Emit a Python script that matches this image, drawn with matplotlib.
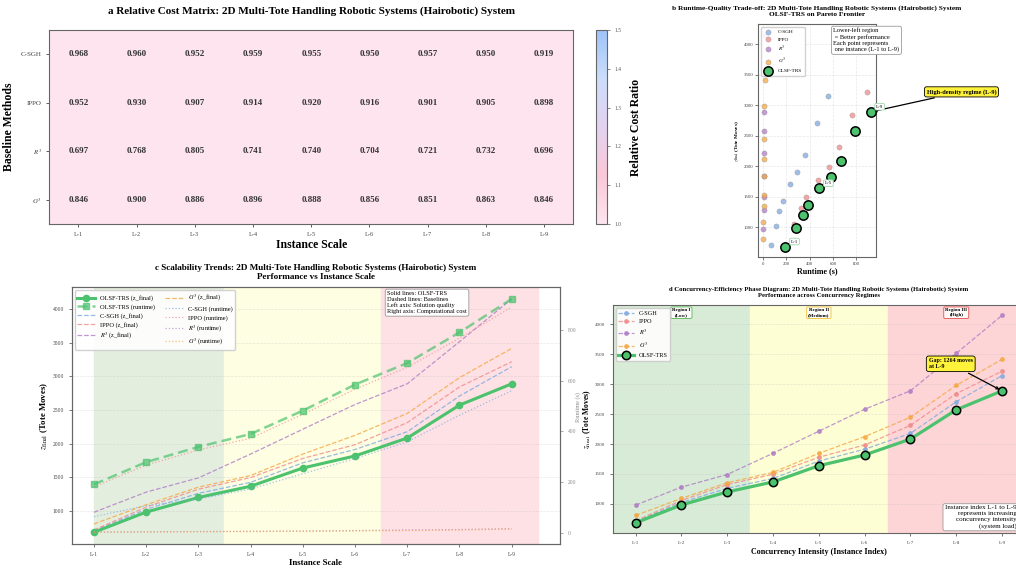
import numpy as np
import matplotlib
matplotlib.use('Agg')
import matplotlib.pyplot as plt
from matplotlib.colors import LinearSegmentedColormap

plt.rcParams['font.family'] = 'serif'
plt.rcParams['font.serif'] = ['Liberation Serif', 'DejaVu Serif']
plt.rcParams['mathtext.fontset'] = 'stix'

# Data
instances = ['L-1', 'L-2', 'L-3', 'L-4', 'L-5', 'L-6', 'L-7', 'L-8', 'L-9']
baselines = ['C-SGH', 'IPPO', '$R^3$', '$G^3$']
ratio = np.array([
    [0.968, 0.960, 0.952, 0.959, 0.955, 0.950, 0.957, 0.950, 0.919],
    [0.952, 0.930, 0.907, 0.914, 0.920, 0.916, 0.901, 0.905, 0.898],
    [0.697, 0.768, 0.805, 0.741, 0.740, 0.704, 0.721, 0.732, 0.696],
    [0.846, 0.900, 0.886, 0.896, 0.888, 0.856, 0.851, 0.863, 0.846],
])

olsf_z = [683, 983, 1200, 1367, 1638, 1817, 2083, 2572, 2888]
csgh_z = [706, 1024, 1261, 1425, 1715, 1913, 2177, 2707, 3143]
ippo_z = [717, 1057, 1323, 1496, 1780, 1984, 2312, 2842, 3216]
r3_z = [980, 1280, 1491, 1845, 2214, 2581, 2889, 3514, 4149]
g3_z = [807, 1092, 1354, 1526, 1845, 2123, 2448, 2980, 3414]

olsf_rt = [190, 278, 338, 389, 481, 584, 669, 790, 922]
csgh_rt = [63, 106, 132, 172, 232, 292, 358, 463, 560]
ippo_rt = [180, 266, 326, 372, 467, 566, 652, 767, 890]
r3_rt = [2, 3, 4, 5, 6, 8, 10, 12, 15]
g3_rt = [1, 2, 3, 4, 5, 6, 8, 10, 14]

base_z = [csgh_z, ippo_z, r3_z, g3_z]
base_rt = [csgh_rt, ippo_rt, r3_rt, g3_rt]
colors = ['#7FA9E0', '#F08A8A', '#B07CC6', '#F5A742']
green = '#4CC26E'
x = np.arange(len(instances))

fig = plt.figure(figsize=(10.16, 5.72), dpi=100)

# ---------------- a: heatmap
ax_a = fig.add_axes([0.0485, 0.6084, 0.5157, 0.3392])
cax = fig.add_axes([0.5866, 0.6084, 0.0105, 0.3392])
cmap = LinearSegmentedColormap.from_list('pb', ['#FDE4EE', '#FAC8D8', '#E3D2F0', '#CCDDFB', '#9DC3F8'])
im = ax_a.imshow(ratio, cmap=cmap, vmin=1.0, vmax=1.5, aspect='auto')
for i in range(ratio.shape[0]):
    for j in range(ratio.shape[1]):
        ax_a.text(j, i, f'{ratio[i, j]:.3f}', ha='center', va='center',
                  fontsize=6.5, fontweight='bold', color='#333333')
ax_a.set_xticks(x)
ax_a.set_xticklabels(instances, fontsize=4.5)
ax_a.set_yticks(range(len(baselines)))
ax_a.set_yticklabels(baselines, fontsize=5)
ax_a.tick_params(length=2, width=0.6, colors='#444444')
ax_a.set_xlabel('Instance Scale', fontsize=8.5, fontweight='bold', labelpad=2)
ax_a.set_ylabel('Baseline Methods', fontsize=8.5, fontweight='bold', labelpad=4)
ax_a.set_title('a Relative Cost Matrix: 2D Multi-Tote Handling Robotic Systems (Hairobotic) System',
               fontsize=8, fontweight='bold', pad=12)
for s in ax_a.spines.values():
    s.set_color('#666666')
cb = fig.colorbar(im, cax=cax)
cb.set_label('Relative Cost Ratio', fontsize=8.5, fontweight='bold', labelpad=6)
cb.ax.tick_params(labelsize=4, length=2, width=0.5, colors='#555555')
cb.outline.set_edgecolor('#666666')

# ---------------- b: scatter
ax_b = fig.add_axes([0.746, 0.5502, 0.1161, 0.4073])
for zs, rts, col, name in zip(base_z, base_rt, colors, baselines):
    ax_b.scatter(rts, zs, s=14, c=col, alpha=0.75, edgecolors='#888888', linewidths=0.3, label=name, zorder=3)
ax_b.scatter(olsf_rt, olsf_z, s=45, c=green, edgecolors='black', linewidths=1.1, label='OLSF-TRS', zorder=5)
for k in [0, 4, 8]:
    ax_b.annotate(instances[k], (olsf_rt[k], olsf_z[k]), xytext=(4, 3), textcoords='offset points',
                  fontsize=3.6, bbox=dict(boxstyle='round,pad=0.25', fc='white', ec='#9FD9AE', lw=0.6), zorder=6)
ax_b.annotate('High-density regime (L-9)', (olsf_rt[8], olsf_z[8]), xytext=(1.43, 0.71),
              textcoords='axes fraction', fontsize=4.5, fontweight='bold', va='center',
              bbox=dict(boxstyle='round,pad=0.35', fc='#FFF23A', ec='black', lw=0.6),
              arrowprops=dict(arrowstyle='->', color='black', lw=0.9), annotation_clip=False)
ax_b.text(0.64, 0.985, 'Lower-left region\n = Better performance\nEach point represents\n one instance (L-1 to L-9)',
          transform=ax_b.transAxes, fontsize=4.6, va='top', ha='left',
          bbox=dict(boxstyle='round,pad=0.3', fc='white', ec='#999999', lw=0.6), zorder=7)
ax_b.legend(loc='upper left', fontsize=3.8, framealpha=0.9, edgecolor='#cccccc', borderpad=0.5, labelspacing=0.5)
ax_b.set_xticks([0, 200, 400, 600, 800])
ax_b.tick_params(labelsize=3.5, length=2, width=0.5, pad=1.5, colors='#444444')
ax_b.grid(True, linestyle='--', alpha=0.3, lw=0.5)
ax_b.set_xlabel('Runtime (s)', fontsize=5.8, fontweight='bold', labelpad=0.5)
ax_b.set_ylabel(r'$z_{\mathrm{final}}$ (Tote Moves)', fontsize=3.8, fontweight='bold', labelpad=2)
ax_b.set_title('b Runtime-Quality Trade-off: 2D Multi-Tote Handling Robotic Systems (Hairobotic) System\nOLSF-TRS on Pareto Frontier',
               fontsize=5.3, fontweight='bold', pad=6)
for s in ax_b.spines.values():
    s.set_color('#666666')

# ---------------- c: scalability
ax_c = fig.add_axes([0.0706, 0.049, 0.4806, 0.4488])
ax_c.axvspan(0, 2.5, color='#E4EEDF', zorder=0)
ax_c.axvspan(2.5, 5.5, color='#FEFEE2', zorder=0)
ax_c.axvspan(5.5, 8.5, color='#FDE1E4', zorder=0)
h_oz, = ax_c.plot(x, olsf_z, '-o', color=green, lw=2.2, ms=4.5, label='OLSF-TRS (z_final)', zorder=5)
hz = []
for zs, col, name in zip(base_z, colors, baselines):
    h, = ax_c.plot(x, zs, '--', color=col, lw=0.9, alpha=0.8, label=name + ' (z_final)', zorder=3)
    hz.append(h)
ax_c2 = ax_c.twinx()
h_ort, = ax_c2.plot(x, olsf_rt, '--s', color=green, lw=1.8, ms=4.5, alpha=0.7, dashes=(4, 2),
                    label='OLSF-TRS (runtime)', zorder=4)
hr = []
for rts, col, name in zip(base_rt, colors, baselines):
    h, = ax_c2.plot(x, rts, ':', color=col, lw=0.9, alpha=0.7, label=name + ' (runtime)')
    hr.append(h)
ax_c.set_xticks(x)
ax_c.set_xticklabels(instances)
ax_c.tick_params(labelsize=4, length=2, width=0.5, colors='#444444')
ax_c2.tick_params(labelsize=4, length=2, width=0.5, colors='#888888')
ax_c2.set_yticks([0, 200, 400, 600, 800])
ax_c.grid(True, axis='y', linestyle='--', alpha=0.3, lw=0.5)
ax_c.set_xlabel('Instance Scale', fontsize=6.3, fontweight='bold', labelpad=2)
ax_c.set_ylabel(r'$z_{\mathrm{final}}$ (Tote Moves)', fontsize=6.3, fontweight='bold', labelpad=2)
ax_c2.set_ylabel('Runtime (s)', fontsize=4.5, color='#888888')
ax_c2.yaxis.set_label_coords(1.032, 0.535)
ax_c.set_title('c Scalability Trends: 2D Multi-Tote Handling Robotic Systems (Hairobotic) System\nPerformance vs Instance Scale',
               fontsize=6.6, fontweight='bold', pad=6)
handles = [h_oz, h_ort] + hz + hr
ax_c.legend(handles=handles, loc='upper left', ncol=2, fontsize=4.6, framealpha=0.9,
            edgecolor='#cccccc', handlelength=2.8, columnspacing=1.5, labelspacing=0.45)
ax_c.text(0.646, 0.985, 'Solid lines: OLSF-TRS\nDashed lines: Baselines\nLeft axis: Solution quality\nRight axis: Computational cost',
          transform=ax_c.transAxes, fontsize=4.6, va='top', ha='left', zorder=8,
          bbox=dict(boxstyle='round,pad=0.3', fc='white', ec='#999999', lw=0.6))
for s in list(ax_c.spines.values()) + list(ax_c2.spines.values()):
    s.set_color('#666666')

# ---------------- d: phase diagram
ax_d = fig.add_axes([0.603, 0.0677, 0.4058, 0.3991])
ax_d.axvspan(-0.5, 2.5, color='#D8EBD6', zorder=0)
ax_d.axvspan(2.5, 5.5, color='#FEFED5', zorder=0)
ax_d.axvspan(5.5, 8.5, color='#FDD5D7', zorder=0)
for zs, col, name in zip(base_z, colors, baselines):
    ax_d.plot(x, zs, '--o', color=col, lw=0.9, ms=2.5, alpha=0.8, label=name, zorder=3)
ax_d.plot(x, olsf_z, '-o', color=green, lw=2.3, ms=6, mec='black', mew=1.1, label='OLSF-TRS', zorder=5)
ax_d.set_xlim(-0.5, 8.5)
regions = [(1, 'Region I\n(Low)', '#5CB85C'), (4, 'Region II\n(Medium)', '#F0C040'), (7, 'Region III\n(High)', '#E85050')]
for xr, lab, ec in regions:
    ax_d.text(xr, 0.985, lab, transform=ax_d.get_xaxis_transform(), ha='center', va='top',
              fontsize=3.6, fontweight='bold',
              bbox=dict(boxstyle='round,pad=0.3', fc='white', ec=ec, lw=0.7, alpha=0.9))
ax_d.annotate('Gap: 1264 moves\nat L-9', (8, olsf_z[8]), xytext=(6.4, 3340), fontsize=4.3,
              fontweight='bold', va='center', ha='left',
              bbox=dict(boxstyle='round,pad=0.4', fc='#FFF23A', ec='black', lw=0.6),
              arrowprops=dict(arrowstyle='->', color='black', lw=0.9), zorder=7)
ax_d.text(0.98, 0.02, 'Instance index L-1 to L-9\nrepresents increasing\nconcurrency intensity\n(system load)',
          transform=ax_d.transAxes, ha='right', va='bottom', multialignment='right', fontsize=5,
          bbox=dict(boxstyle='round,pad=0.3', fc='white', ec='#999999', lw=0.6), zorder=8)
ax_d.legend(loc='upper left', fontsize=4.5, framealpha=0.9, edgecolor='#cccccc', handlelength=2.5)
ax_d.set_xticks(x)
ax_d.set_xticklabels(instances)
ax_d.tick_params(labelsize=3.6, length=2, width=0.5, colors='#444444')
ax_d.grid(True, axis='y', linestyle='--', alpha=0.3, lw=0.5)
ax_d.set_xlabel('Concurrency Intensity (Instance Index)', fontsize=5.8, fontweight='bold', labelpad=2)
ax_d.set_ylabel(r'$z_{\mathrm{final}}$ (Tote Moves)', fontsize=5.5, fontweight='bold')
ax_d.yaxis.set_label_coords(-0.048, 0.5)
ax_d.set_title('d Concurrency-Efficiency Phase Diagram: 2D Multi-Tote Handling Robotic Systems (Hairobotic) System\nPerformance across Concurrency Regimes',
               fontsize=4.8, fontweight='bold', pad=6)
for s in ax_d.spines.values():
    s.set_color('#666666')

fig.savefig('out.png', dpi=100)
